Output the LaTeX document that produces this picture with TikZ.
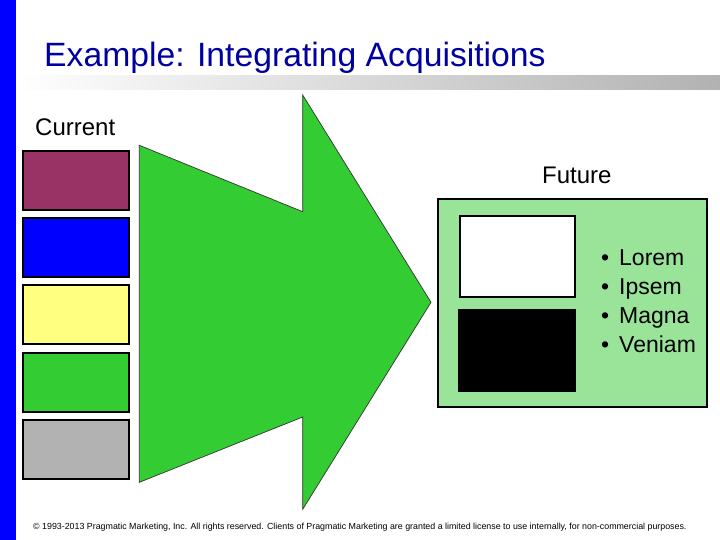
\documentclass[tikz,border=0pt]{standalone}
\usepackage{fontspec}
\setmainfont{Liberation Sans}
\definecolor{titleblue}{RGB}{0,0,160}
\definecolor{barblue}{RGB}{0,0,255}
\definecolor{maroon}{RGB}{153,51,102}
\definecolor{lyellow}{RGB}{255,255,128}
\definecolor{mgreen}{RGB}{51,204,51}
\definecolor{lgray}{RGB}{178,178,178}
\definecolor{lgreen}{RGB}{153,228,153}
\begin{document}
\begin{tikzpicture}[x=1pt,y=-1pt,
  cbox/.style={draw=black,line width=2pt,minimum width=106pt,minimum height=59pt,inner sep=0pt},
  txt/.style={anchor=base west,inner sep=0pt,font=\fontsize{24}{28}\selectfont},
  bul/.style={anchor=base west,inner sep=0pt,font=\fontsize{23}{28}\selectfont}]
\useasboundingbox (0,0) rectangle (720,540);
\fill[white] (0,0) rectangle (720,540);
% blue bar
\fill[barblue] (0,0) rectangle (16,540);
% gradient bar
\shade[left color=white,right color=lgray] (16,76) rectangle (720,90);
% title
\node[anchor=base west,inner sep=0pt,text=titleblue,font=\fontsize{33.7}{38}\selectfont] (title) at (44,67) {Example: Integrating Acquisitions};
% current
\node[txt] (cur) at (35,136) {Current};
\node[cbox,fill=maroon] (b1) at (76,180.5) {};
\node[cbox,fill=barblue] (b2) at (76,247.3) {};
\node[cbox,fill=lyellow] (b3) at (76,314.5) {};
\node[cbox,fill=mgreen] (b4) at (76,382.3) {};
\node[cbox,fill=lgray] (b5) at (76,449.5) {};
% arrow
\draw[fill=mgreen,draw=black!80,line width=0.7pt,line join=miter]
  (139.3,145.3) -- (302.7,211.7) -- (302.7,95) -- (431,302.3) -- (302.7,509.3) -- (302.7,417) -- (139.3,482.3) -- cycle;
% future
\node[txt] (fut) at (542,184) {Future};
\node[draw=black,line width=2pt,fill=lgreen,minimum width=269pt,minimum height=208pt,inner sep=0pt] (fbox) at (572.8,303.3) {};
\node[draw=black,line width=2pt,fill=white,minimum width=115pt,minimum height=81pt,inner sep=0pt] (wbox) at (517.2,256.7) {};
\node[fill=black,minimum width=118pt,minimum height=83pt,inner sep=0pt] (kbox) at (517.2,350.5) {};
\node[bul] (l1) at (601,265) {•};
\node[bul] (t1) at (619,265) {Lorem};
\node[bul] (l2) at (601,294) {•};
\node[bul] (t2) at (619,294) {Ipsem};
\node[bul] (l3) at (601,323) {•};
\node[bul] (t3) at (619,323) {Magna};
\node[bul] (l4) at (601,352) {•};
\node[bul] (t4) at (619,352) {Veniam};
% footer
\node[anchor=base west,inner sep=0pt,font=\fontsize{8.85}{10}\selectfont] (foot) at (33,529) {© 1993-2013 Pragmatic Marketing, Inc. All rights reserved. Clients of Pragmatic Marketing are granted a limited license to use internally, for non-commercial purposes.};
\end{tikzpicture}
\end{document}
